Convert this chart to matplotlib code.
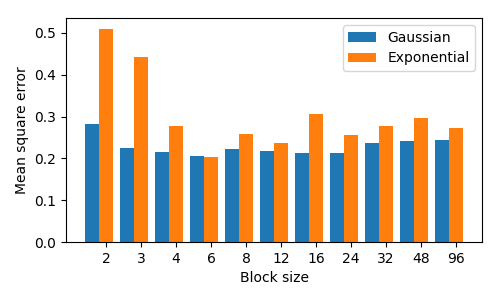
import matplotlib
matplotlib.use('Agg')
import matplotlib.pyplot as plt
import numpy as np

block_sizes = ['2', '3', '4', '6', '8', '12', '16', '24', '32', '48', '96']
gaussian = [0.283, 0.225, 0.216, 0.206, 0.223, 0.218, 0.213, 0.213, 0.237, 0.242, 0.244]
exponential = [0.510, 0.443, 0.278, 0.204, 0.259, 0.237, 0.307, 0.256, 0.278, 0.297, 0.273]

fig, ax = plt.subplots(figsize=(5, 3), dpi=100)
x = np.arange(len(block_sizes))
width = 0.4

ax.bar(x, gaussian, width=width, label='Gaussian')
ax.bar(x + width, exponential, width=width, label='Exponential')

ax.set_xticks(x + width)
ax.set_xticklabels(block_sizes)
ax.set_xlabel('Block size')
ax.set_ylabel('Mean square error')
ax.legend(loc='upper right')

plt.subplots_adjust(left=0.132, right=0.964, bottom=0.193, top=0.94)
plt.savefig('out.png', dpi=100)
